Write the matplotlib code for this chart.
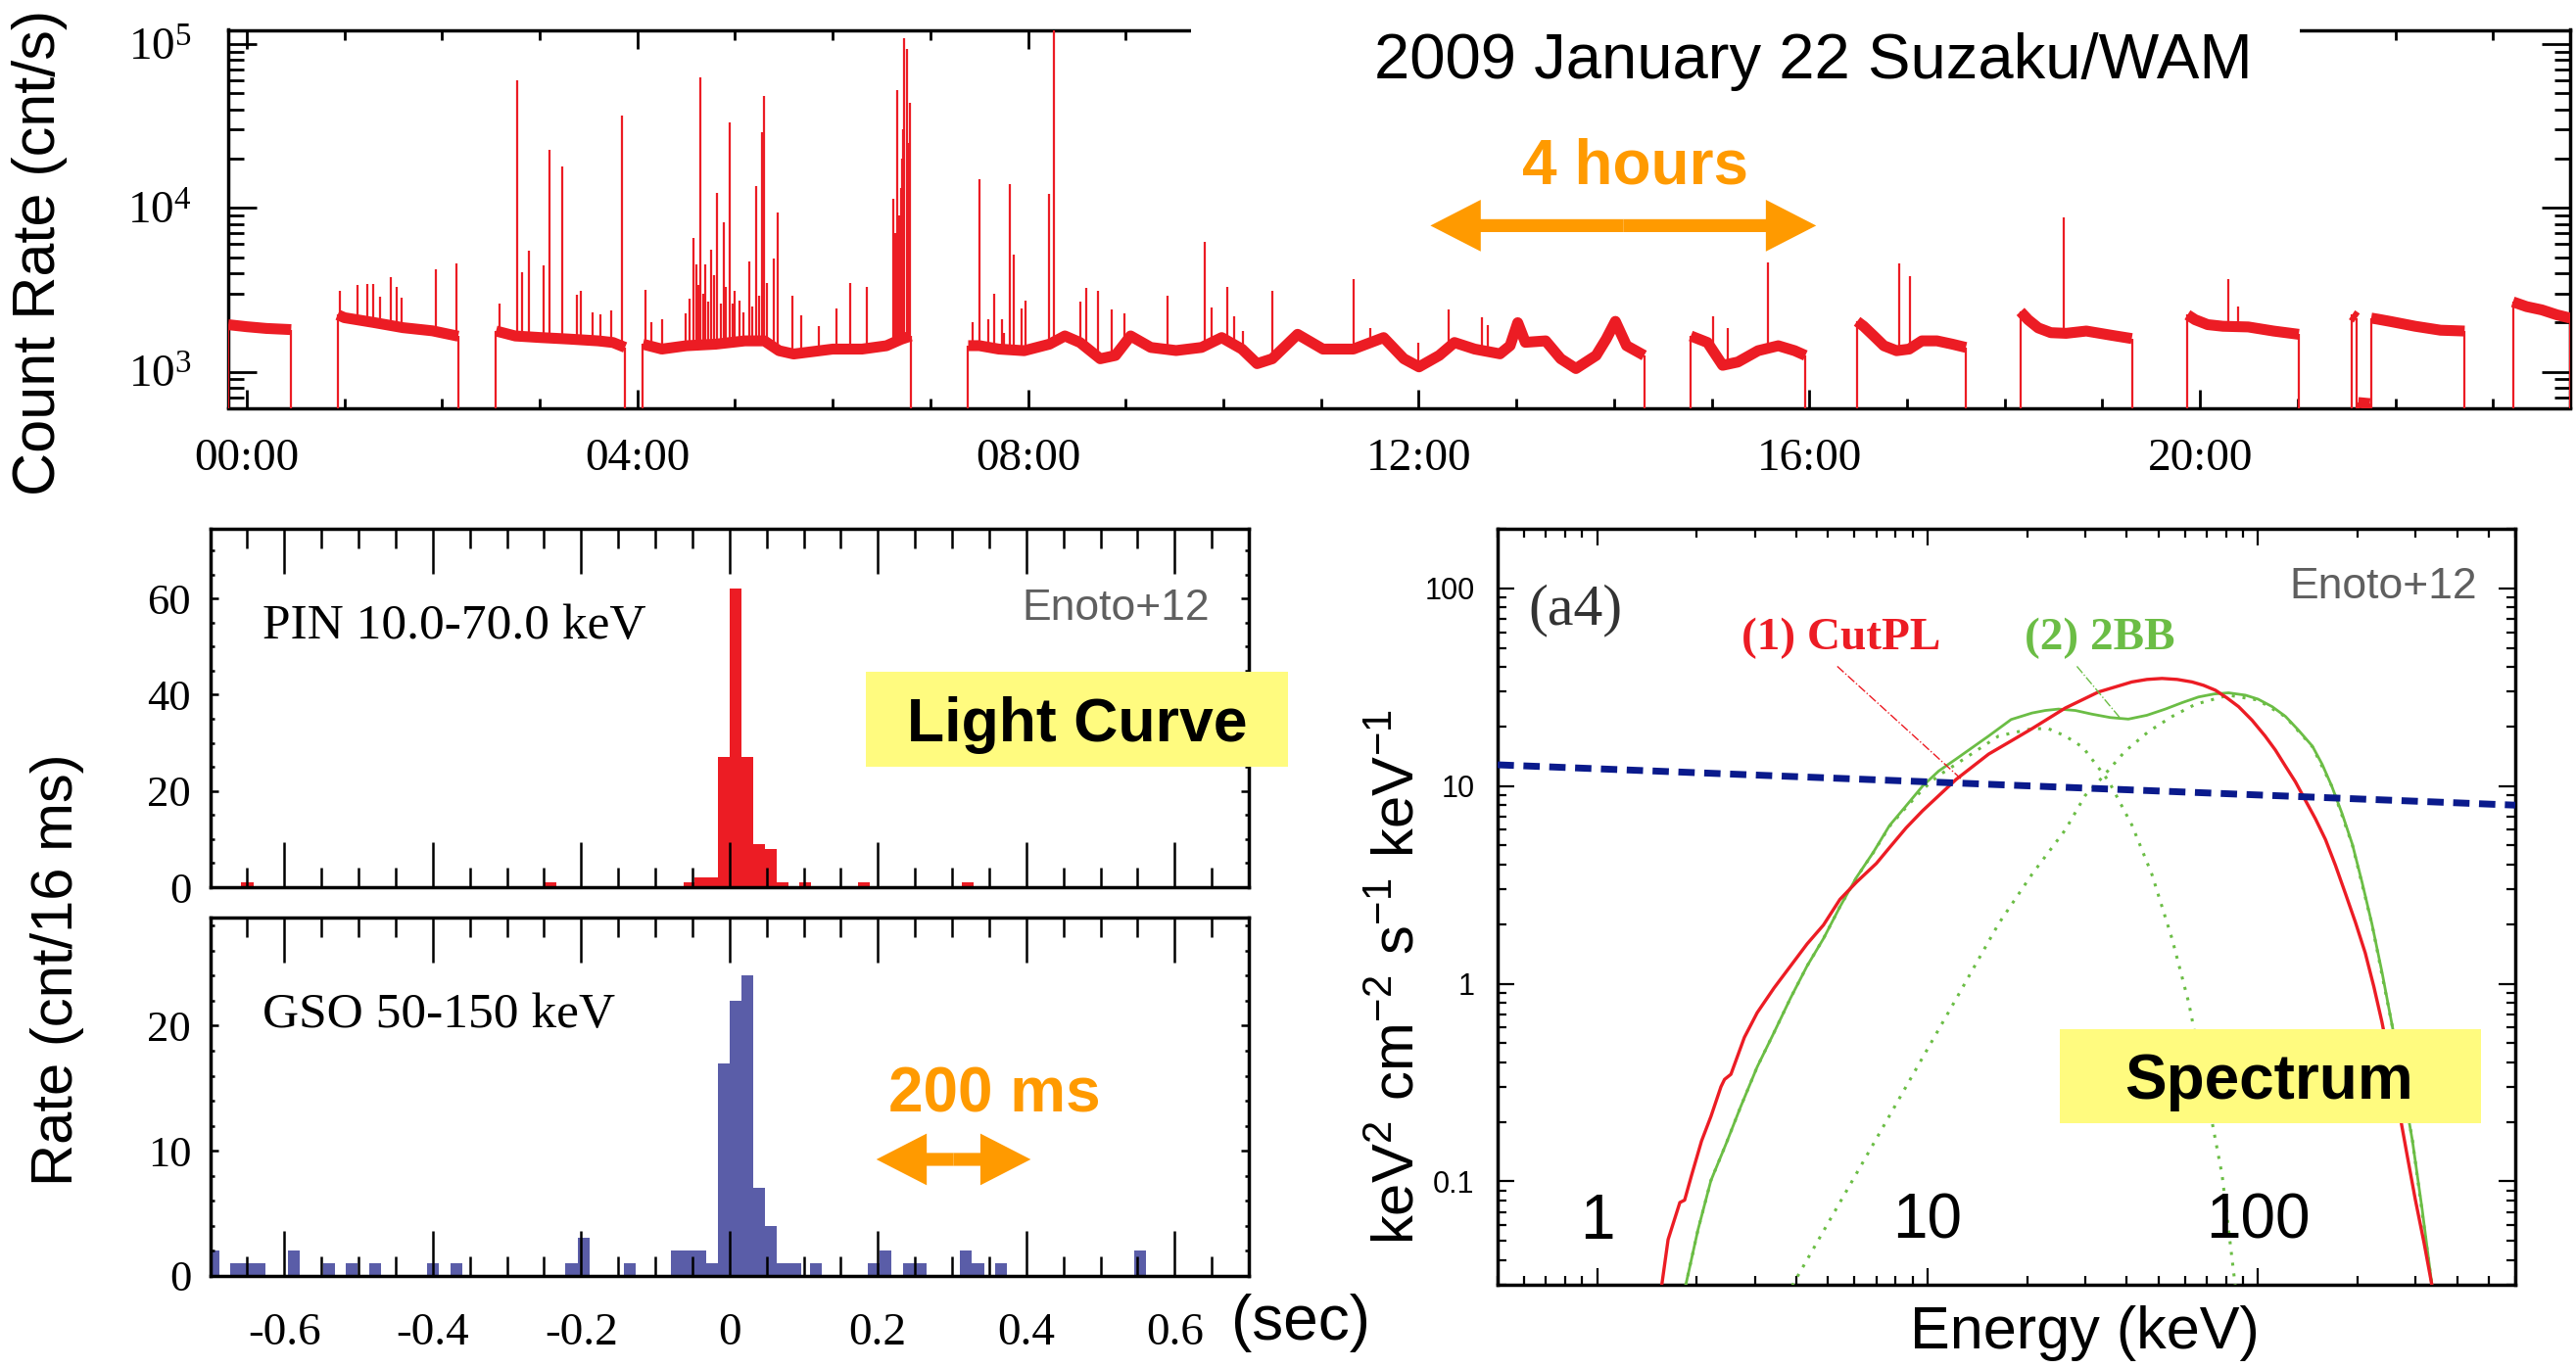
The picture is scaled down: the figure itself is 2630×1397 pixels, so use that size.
import numpy as np
import matplotlib
matplotlib.use('Agg')
import matplotlib.pyplot as plt
import matplotlib.transforms as mtransforms
from matplotlib.patches import Rectangle, FancyArrowPatch
from matplotlib.ticker import (FixedLocator, MultipleLocator, LogLocator,
                               NullFormatter, FixedFormatter)

nan = float('nan')

# ---------------- top panel: Suzaku/WAM count rate (hours, cnt/s) ----------------
wam_hour = [-0.19, 0.0, 0.2, 0.455, nan,
            0.931, 1.0, 1.3, 1.6, 1.9, 2.165, nan,
            2.552, 2.75, 3.0, 3.3, 3.6, 3.75, 3.874, nan,
            4.056, 4.25, 4.5, 4.8, 5.1, 5.3, 5.45, 5.6, 6.0, 6.3, 6.55, 6.7, 6.8, nan,
            7.387, 7.5, 7.7, 7.96, 8.22, 8.377, 8.532, 8.739, 8.895, 9.05,
            9.257, 9.516, 9.776, 9.983, 10.19, 10.345, 10.501, 10.76, 11.019, 11.33,
            11.641, 11.848, 12.003, 12.21, 12.366, 12.573, 12.833, 12.936, 13.014, 13.092,
            13.3, 13.454, 13.61, 13.817, 13.92, 14.014, 14.128, 14.309, nan,
            14.786, 14.957, 15.112, 15.268, 15.475, 15.682, 15.85, 15.96, nan,
            16.489, 16.556, 16.66, 16.763, 16.893, 17.022, 17.152, 17.307, 17.463, 17.603, nan,
            18.162, 18.24, 18.344, 18.473, 18.629, 18.836, 19.095, 19.302, nan,
            19.872, 19.95, 20.079, 20.235, 20.494, 20.753, 21.012, nan,
            21.556, 21.605, nan,
            21.62, 21.74, nan,
            21.753, 21.815, 21.945, 22.204, 22.463, 22.71, nan,
            23.204, 23.344, 23.5, 23.655, 23.79]
wam_rate = [1940, 1885, 1840, 1810, nan,
            2230, 2140, 2000, 1860, 1780, 1650, nan,
            1775, 1655, 1620, 1585, 1545, 1510, 1410, nan,
            1475, 1377, 1443, 1475, 1545, 1545, 1346, 1285, 1377, 1377, 1443, 1580, 1655, nan,
            1445, 1445, 1377, 1346, 1476, 1656, 1510, 1202, 1259, 1656,
            1409, 1349, 1409, 1618, 1377, 1122, 1202, 1694, 1377, 1377,
            1618, 1202, 1072, 1259, 1510, 1377, 1288, 1445, 1995, 1514,
            1545, 1202, 1047, 1259, 1585, 2032, 1445, 1259, nan,
            1656, 1510, 1096, 1148, 1346, 1443, 1346, 1259, nan,
            2032, 1897, 1656, 1443, 1346, 1377, 1545, 1545, 1476, 1409, nan,
            2333, 2080, 1854, 1734, 1718, 1774, 1671, 1596, nan,
            2228, 2080, 1941, 1897, 1879, 1774, 1694, nan,
            2228, 2128, nan,
            650, 640, nan,
            2128, 2099, 2032, 1897, 1795, 1774, nan,
            2673, 2500, 2388, 2228, 2128]

spike_hour = [0.952, 1.138, 1.237, 1.299, 1.361, 1.475, 1.532, 1.584, 1.936, 2.149,
              2.589, 2.771, 2.817, 2.89, 3.035, 3.097, 3.226, 3.377, 3.424, 3.542, 3.625, 3.734, 3.838,
              4.086, 4.143, 4.252, 4.496, 4.53, 4.574, 4.599, 4.62, 4.641, 4.67,
              4.693, 4.72, 4.755, 4.78, 4.817, 4.85, 4.882, 4.9, 4.945, 4.98,
              5.0, 5.049, 5.09, 5.142, 5.18, 5.22, 5.25, 5.28, 5.293, 5.33,
              5.4, 5.439, 5.584, 5.677, 5.858, 6.04, 6.18, 6.346, 6.62, 6.64,
              6.657, 6.68, 6.703, 6.71, 6.72, 6.735, 6.756, 6.77, 6.78, 6.786,
              7.434, 7.5, 7.594, 7.656, 7.734, 7.755, 7.812, 7.858, 7.936, 7.978,
              8.211, 8.263, 8.532, 8.594, 8.713, 8.853, 8.988, 9.428, 9.812, 9.879,
              10.035, 10.112, 10.205, 10.501, 11.33, 11.501, 11.993, 12.304, 12.651, 12.703,
              15.019, 15.164, 15.579, 16.919, 17.033, 18.603, 20.287, 20.39]
spike_peak = [3140, 3370, 3440, 3440, 2870, 3780, 3290, 2820, 4230, 4610,
              2610, 60100, 4040, 5500, 4470, 22700, 17900, 2960, 3100, 2300, 2250, 2355, 36400,
              3170, 2005, 2100, 2280, 2800, 6530, 4530, 3400, 63000, 3000,
              4530, 2700, 5570, 3900, 12400, 2600, 8220, 3300, 33200, 2600,
              3100, 2735, 2300, 4740, 2500, 13600, 2900, 28900, 47900, 3500,
              4900, 9420, 2930, 2200, 1900, 2440, 3475, 3290, 11300, 7000,
              52500, 9000, 13300, 20000, 30000, 108000, 93000, 25000, 15000, 43700,
              2005, 14900, 2100, 3010, 2080, 1735, 13900, 5200, 2445, 2735,
              12100, 130000, 2673, 3258, 3112, 2388, 2280, 2930, 6180, 2477,
              3290, 2178, 1774, 3140, 3690, 1854, 1514, 2388, 2158, 1941,
              2178, 1854, 4634, 4571, 3855, 8790, 3656, 2512]

time_ticks = [0, 4, 8, 12, 16, 20]
time_labels = ['00:00', '04:00', '08:00', '12:00', '16:00', '20:00']
rate_ticks = [1e3, 1e4, 1e5]
rate_labels = [r'$\mathregular{10^{3}}$', r'$\mathregular{10^{4}}$', r'$\mathregular{10^{5}}$']

# ---------------- light curves (bin left edge in s, counts per 16 ms) ----------------
bin_width = 0.016
pin_left = [-0.658, -0.249, -0.062, -0.047, -0.031, -0.016, 0.0, 0.016, 0.032, 0.048,
            0.064, 0.094, 0.173, 0.313]
pin_count = [1, 1, 1, 2, 2, 27, 62, 27, 9, 8, 1, 1, 1, 1]

gso_left = [-0.704, -0.673, -0.657, -0.641, -0.595, -0.548, -0.517, -0.486, -0.408, -0.376,
            -0.221, -0.205, -0.142, -0.079, -0.063, -0.047, -0.031, -0.016, 0.0, 0.016,
            0.032, 0.048, 0.064, 0.080, 0.108, 0.186, 0.202, 0.234, 0.250, 0.311,
            0.327, 0.358, 0.546]
gso_count = [2, 1, 1, 1, 2, 1, 1, 1, 1, 1,
             1, 3, 1, 2, 2, 2, 1, 17, 22, 24,
             7, 4, 1, 1, 1, 1, 2, 1, 1, 2,
             1, 1, 2]

lc_ticks = [-0.6, -0.4, -0.2, 0.0, 0.2, 0.4, 0.6]
lc_labels = ['-0.6', '-0.4', '-0.2', '0', '0.2', '0.4', '0.6']

# ---------------- spectrum (keV, keV^2 cm^-2 s^-1 keV^-1) ----------------
crab_E = [0.5, 600]
crab_F = [12.8, 8.0]

cutpl_E = [1.567, 1.64, 1.78, 1.84, 1.93, 2.07, 2.21, 2.37, 2.43, 2.54, 2.79, 3.05, 3.43,
           3.85, 4.32, 4.84, 5.43, 6.10, 7.0, 7.67, 8.61, 9.66, 12.2, 15.3, 17.9, 20.7,
           26.1, 32.9, 41.5, 46.1, 51.2, 56.9, 63.1, 68.4, 74.3, 80.5, 87.3, 95.9, 105,
           112.8, 121, 129.7, 139, 149.2, 160, 171.4, 184, 197.1, 211, 224, 237, 251.6,
           267, 282.5, 299, 317.7, 336]
cutpl_F = [0.0294, 0.0508, 0.0782, 0.0804, 0.107, 0.16, 0.213, 0.301, 0.328, 0.348, 0.535,
           0.713, 0.951, 1.23, 1.59, 1.98, 2.67, 3.27, 4.06, 4.88, 6.14, 7.50, 10.8, 14.5,
           16.9, 19.5, 24.8, 29.9, 33.6, 34.6, 35.0, 34.6, 33.6, 32.3, 30.5, 27.9, 25.2,
           21.5, 17.9, 15.2, 12.6, 10.5, 8.47, 6.81, 5.35, 3.97, 2.84, 2.04, 1.43, 0.966,
           0.64, 0.385, 0.228, 0.1355, 0.081, 0.049, 0.0296]

bb_total_E = [1.85, 2.02, 2.21, 2.46, 2.72, 3.05, 3.43, 3.85, 4.32, 4.84, 5.43, 6.10, 6.84,
              7.67, 8.61, 9.66, 10.8, 12.2, 15.3, 17.9, 20.7, 22.7, 24.9, 28.0, 31.4, 35.7,
              40.5, 46.1, 52.4, 58.9, 66, 73.5, 81.4, 91.6, 100, 110.3, 121, 132.7, 146,
              156.2, 167, 179.6, 193, 206.5, 221, 237.3, 255, 272.7, 293, 313.7, 336]
bb_total_F = [0.0294, 0.057, 0.101, 0.156, 0.239, 0.379, 0.566, 0.847, 1.23, 1.69, 2.45,
              3.46, 4.60, 6.31, 7.94, 10.0, 11.9, 13.7, 17.9, 21.7, 23.4, 24.1, 24.5, 24.1,
              23.1, 22.2, 21.8, 22.8, 24.5, 26.4, 28.2, 29.2, 29.6, 28.8, 27.5, 25.2, 22.5,
              19.1, 15.9, 12.9, 10.0, 7.24, 5.05, 3.24, 2.01, 1.135, 0.604, 0.321, 0.161,
              0.072, 0.0296]

bb_cool_E = [1.85, 2.02, 2.21, 2.46, 2.72, 3.05, 3.43, 3.85, 4.32, 4.84, 5.43, 6.10, 6.84,
             7.67, 8.61, 9.66, 10.8, 12.2, 16.4, 20.7, 23.2, 26.1, 29.5, 35.3, 41.5, 47.7,
             54.9, 61.7, 69.3, 77.8, 85.3]
bb_cool_F = [0.0294, 0.057, 0.101, 0.156, 0.239, 0.379, 0.566, 0.847, 1.23, 1.69, 2.45,
             3.45, 4.58, 6.25, 7.8, 9.6, 11.3, 12.9, 17.9, 19.5, 19.5, 17.9, 15.7, 10.6,
             6.35, 3.58, 1.69, 0.80, 0.30, 0.108, 0.0296]

bb_hot_E = [3.89, 4.84, 6.1, 7.67, 9.66, 12.2, 16.4, 20.7, 26.1, 30.0, 33.0, 39.6, 46.7,
            55.0, 64.6, 81.4, 100, 121, 146, 167, 193, 221, 255, 293, 336]
bb_hot_F = [0.0296, 0.056, 0.110, 0.215, 0.423, 0.838, 2.01, 3.58, 6.0, 8.97, 10.6, 15.0,
            18.9, 22.5, 25.9, 28.8, 27.2, 22.4, 15.8, 10.0, 5.01, 2.0, 0.603, 0.162, 0.0295]

energy_ticks = [1, 10, 100]
energy_labels = ['1', '10', '100']
flux_ticks = [0.1, 1, 10, 100]
flux_labels = ['0.1', '1', '10', '100']

# ---------------- style ----------------
W, H, DPI = 2630, 1397, 100
plt.rcParams['font.family'] = ['Liberation Serif', 'DejaVu Serif']
SANS = ['Liberation Sans', 'DejaVu Sans']
RED = '#EC1C24'
GREEN = '#6BBD45'
NAVY = '#0A1A8C'
BLUE = '#5A5DA8'
ORANGE = '#FF9A00'
YELLOW = '#FFFB7F'
GRAY = '#5F5F5F'

fig = plt.figure(figsize=(W / DPI, H / DPI), dpi=DPI)


def box(l, t, r, b):
    return [l / W, 1 - b / H, (r - l) / W, (b - t) / H]


def fx(px):
    return px / W


def fy(py):
    return 1 - py / H


def double_arrow(ax, x0, x1, y):
    xm = 0.5 * (x0 + x1)
    for xe in (x0, x1):
        ax.add_patch(FancyArrowPatch((xm, y), (xe, y),
                                     arrowstyle='simple,head_length=37,head_width=38,tail_width=9.5',
                                     mutation_scale=1, color=ORANGE, lw=0,
                                     shrinkA=0, shrinkB=0, zorder=6, clip_on=False))


ax_top = fig.add_axes(box(233, 30.5, 2624, 416.5))
ax_pin = fig.add_axes(box(214.6, 540, 1275, 906))
ax_gso = fig.add_axes(box(214.6, 936.5, 1275, 1302.6))
ax_sp = fig.add_axes(box(1529, 540, 2568, 1312))

# ---------------- top panel ----------------
t = np.array(wam_hour, dtype=float)
r = np.array(wam_rate, dtype=float)
ax_top.plot(t, r, color=RED, lw=8, solid_capstyle='butt', solid_joinstyle='round', zorder=3)
gaps = np.where(np.isnan(t))[0]
starts = np.r_[0, gaps + 1]
ends = np.r_[gaps - 1, len(t) - 1]
edge_t = np.r_[t[starts], t[ends]]
edge_r = np.r_[r[starts], r[ends]]
ax_top.vlines(edge_t, 300, edge_r, color=RED, lw=1.6, zorder=3)
ok = ~np.isnan(t)
base = np.interp(spike_hour, t[ok], r[ok])
ax_top.vlines(spike_hour, base, spike_peak, color=RED, lw=1.6, zorder=3)

ax_top.set_yscale('log')
ax_top.set_ylim(603, 1.22e5)
ax_top.set_xlim(-0.19, 23.79)
ax_top.xaxis.set_major_locator(FixedLocator(time_ticks))
ax_top.xaxis.set_major_formatter(FixedFormatter(time_labels))
ax_top.xaxis.set_minor_locator(MultipleLocator(1))
ax_top.yaxis.set_major_locator(FixedLocator(rate_ticks))
ax_top.yaxis.set_major_formatter(FixedFormatter(rate_labels))
ax_top.yaxis.set_minor_locator(LogLocator(base=10, subs=np.arange(2, 10), numticks=50))
ax_top.yaxis.set_minor_formatter(NullFormatter())
ax_top.tick_params(which='both', direction='in', top=True, right=True, width=2)
ax_top.tick_params(axis='x', which='major', length=14, pad=22, labelsize=34)
ax_top.tick_params(axis='x', which='minor', length=7)
ax_top.tick_params(axis='y', which='major', length=21, pad=27, labelsize=34)
ax_top.tick_params(axis='y', which='minor', length=11.5)
for s in ax_top.spines.values():
    s.set_linewidth(2.5)

double_arrow(ax_top, 12.12, 16.07, 7800)

# title cover (title interrupts the top frame)
fig.add_artist(Rectangle((fx(1216), fy(100)), (2348 - 1216) / W, 80 / H,
                         transform=fig.transFigure, facecolor='white',
                         edgecolor='none', zorder=2))
fig.text(fx(1851), fy(80), '2009 January 22 Suzaku/WAM', family=SANS, fontsize=47,
         ha='center', va='baseline', zorder=4)
fig.text(fx(1670), fy(187), '4 hours', family=SANS, fontsize=46, fontweight='bold',
         color=ORANGE, ha='center', va='baseline', zorder=4)
fig.text(fx(41), fy(258), 'Count Rate (cnt/s)', family=SANS, fontsize=44,
         rotation=90, ha='center', va='center')

# ---------------- light curves ----------------
ax_pin.bar(pin_left, pin_count, width=bin_width, align='edge', color=RED, linewidth=0)
ax_gso.bar(gso_left, gso_count, width=bin_width, align='edge', color=BLUE, linewidth=0)
for ax in (ax_pin, ax_gso):
    ax.set_xlim(-0.70, 0.70)
    ax.xaxis.set_major_locator(FixedLocator(lc_ticks))
    ax.xaxis.set_minor_locator(MultipleLocator(0.05))
    ax.tick_params(which='both', direction='in', top=True, right=True, width=1.8)
    ax.tick_params(axis='x', which='major', length=33)
    ax.tick_params(axis='x', which='minor', length=14.5)
    ax.tick_params(axis='y', which='major', length=6, labelsize=32, pad=14)
    ax.tick_params(axis='y', which='minor', length=3)
    for s in ax.spines.values():
        s.set_linewidth(2.5)
ax_pin.set_ylim(0, 74.5)
ax_pin.yaxis.set_major_locator(FixedLocator([0, 20, 40, 60]))
ax_pin.yaxis.set_minor_locator(MultipleLocator(5))
ax_pin.tick_params(axis='x', labelbottom=False)
ax_gso.set_ylim(0, 28.7)
ax_gso.yaxis.set_major_locator(FixedLocator([0, 10, 20]))
ax_gso.yaxis.set_minor_locator(MultipleLocator(2))
ax_gso.xaxis.set_major_formatter(FixedFormatter(lc_labels))
ax_gso.tick_params(axis='x', which='major', labelsize=34, pad=27)

double_arrow(ax_gso, 0.198, 0.406, 9.3)

fig.text(fx(268), fy(651.6), 'PIN 10.0-70.0 keV', fontsize=37, ha='left', va='baseline')
fig.text(fx(268), fy(1049), 'GSO 50-150 keV', fontsize=37, ha='left', va='baseline')
fig.text(fx(1235), fy(632.7), 'Enoto+12', family=SANS, fontsize=32, color=GRAY,
         ha='right', va='baseline')
fig.add_artist(Rectangle((fx(884), fy(783)), (1315 - 884) / W, (783 - 686) / H,
                         transform=fig.transFigure, facecolor=YELLOW,
                         edgecolor='none', zorder=3))
fig.text(fx(1100), fy(757), 'Light Curve', family=SANS, fontsize=45, fontweight='bold',
         ha='center', va='baseline', zorder=4)
fig.text(fx(1015), fy(1135), '200 ms', family=SANS, fontsize=46, fontweight='bold',
         color=ORANGE, ha='center', va='baseline', zorder=4)
fig.text(fx(59), fy(990), 'Rate (cnt/16 ms)', family=SANS, fontsize=43,
         rotation=90, ha='center', va='center')
fig.text(fx(1328), fy(1351), '(sec)', family=SANS, fontsize=46, ha='center', va='center')

# ---------------- spectrum ----------------
ax_sp.set_xscale('log')
ax_sp.set_yscale('log')
ax_sp.set_xlim(0.5, 600)
ax_sp.set_ylim(0.03, 200)
dotted = (0, (1.0, 2.6))
ax_sp.plot(bb_cool_E, bb_cool_F, color=GREEN, lw=2.2, ls=dotted, zorder=3)
ax_sp.plot(bb_hot_E, bb_hot_F, color=GREEN, lw=2.2, ls=dotted, zorder=3)
ax_sp.plot(bb_total_E, bb_total_F, color=GREEN, lw=2.0, zorder=4,
           solid_joinstyle='round')
ax_sp.plot(cutpl_E, cutpl_F, color=RED, lw=2.4, zorder=5, solid_joinstyle='round')
ax_sp.plot(crab_E, crab_F, color=NAVY, lw=5, ls=(0, (2.4, 1.4)), zorder=6)
# leader lines for the model labels
ax_sp.plot([5.33, 12.6], [40.3, 10.9], color=RED, lw=1.0, ls='-.', zorder=5)
ax_sp.plot([28.3, 38.3], [40.3, 22.0], color=GREEN, lw=1.0, ls='-.', zorder=5)

ax_sp.xaxis.set_major_locator(FixedLocator(energy_ticks))
ax_sp.xaxis.set_minor_locator(LogLocator(base=10, subs=np.arange(2, 10), numticks=100))
ax_sp.xaxis.set_minor_formatter(NullFormatter())
ax_sp.yaxis.set_major_locator(FixedLocator(flux_ticks))
ax_sp.yaxis.set_major_formatter(FixedFormatter(flux_labels))
ax_sp.yaxis.set_minor_locator(LogLocator(base=10, subs=np.arange(2, 10), numticks=100))
ax_sp.yaxis.set_minor_formatter(NullFormatter())
ax_sp.tick_params(which='both', direction='in', top=True, right=True, width=1.6)
ax_sp.tick_params(which='major', length=12)
ax_sp.tick_params(which='minor', length=6.5)
ax_sp.tick_params(axis='x', labelbottom=False)
ax_sp.tick_params(axis='y', labelsize=22, pad=17, labelfontfamily='Liberation Sans')
for s in ax_sp.spines.values():
    s.set_linewidth(2.5)

trans = mtransforms.blended_transform_factory(ax_sp.transData, ax_sp.transAxes)
for e, lab in zip(energy_ticks, energy_labels):
    ax_sp.text(e, 0.0609, lab, transform=trans, family=SANS, fontsize=46,
               ha='center', va='baseline', zorder=7)

fig.text(fx(1560.5), fy(637), '(a4)', fontsize=43, color='#333333', ha='left', va='baseline')
fig.text(fx(1778), fy(663.5), '(1) CutPL', fontsize=34, fontweight='bold', color=RED,
         ha='left', va='baseline')
fig.text(fx(2067), fy(663.5), '(2) 2BB', fontsize=34, fontweight='bold', color=GREEN,
         ha='left', va='baseline')
fig.text(fx(2529), fy(610.6), 'Enoto+12', family=SANS, fontsize=32, color=GRAY,
         ha='right', va='baseline')
fig.text(fx(1704), fy(862.5), 'Crab Nebula', family=SANS, fontsize=38, fontweight='bold',
         color=NAVY, ha='left', va='baseline', zorder=-1)
fig.add_artist(Rectangle((fx(2103), fy(1147)), (2533 - 2103) / W, (1147 - 1051) / H,
                         transform=fig.transFigure, facecolor=YELLOW,
                         edgecolor='none', zorder=3))
fig.text(fx(2316.5), fy(1122), 'Spectrum', family=SANS, fontsize=46, fontweight='bold',
         ha='center', va='baseline', zorder=4)
fig.text(fx(1428), fy(998), r'$\mathregular{keV^{2}\ cm^{-2}\ s^{-1}\ keV^{-1}}$',
         family=SANS, fontsize=43, rotation=90, ha='center', va='center')
fig.text(fx(2128), fy(1362), 'Energy (keV)', family=SANS, fontsize=44,
         ha='center', va='center')

fig.savefig('out.png', dpi=DPI)
